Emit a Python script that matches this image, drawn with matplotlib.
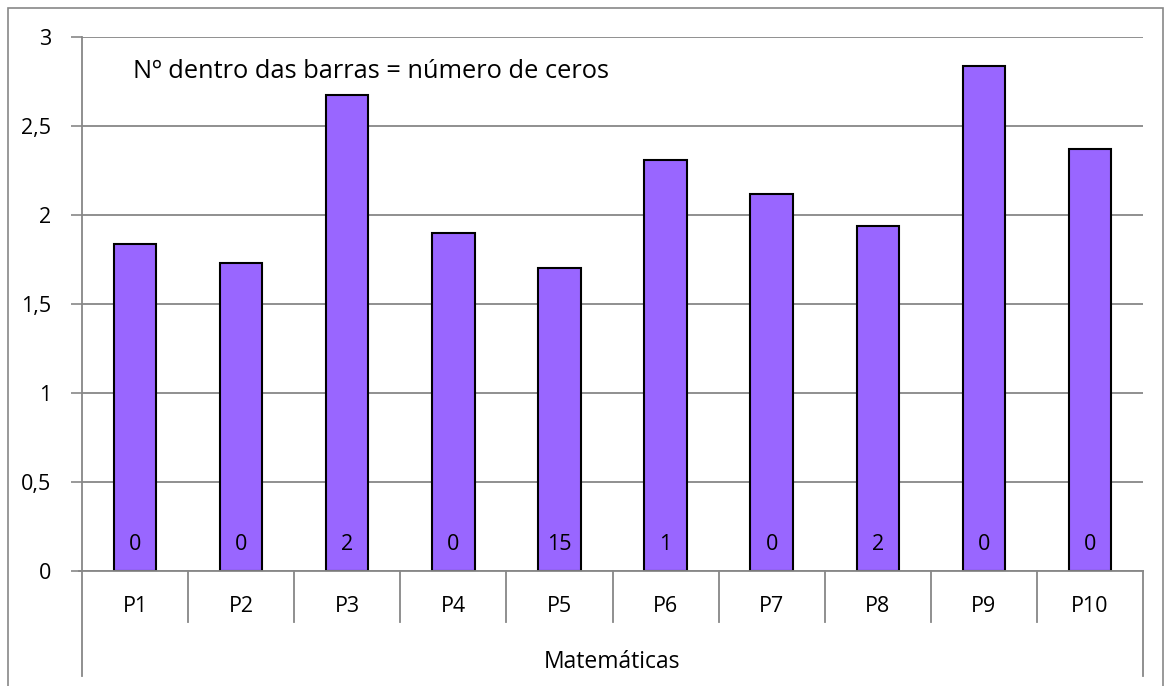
import matplotlib.pyplot as plt
from matplotlib.ticker import FuncFormatter
import matplotlib.transforms as mtransforms
from matplotlib.patches import Rectangle

# Datos
categorias = ['P1', 'P2', 'P3', 'P4', 'P5', 'P6', 'P7', 'P8', 'P9', 'P10']
medias = [1.835, 1.732, 2.672, 1.897, 1.704, 2.311, 2.12, 1.936, 2.837, 2.372]
ceros = [0, 0, 2, 0, 15, 1, 0, 2, 0, 0]
grupo = 'Matemáticas'

plt.rcParams['font.family'] = ['Open Sans', 'DejaVu Sans']
gris = '#878787'
fs = 15.5

fig = plt.figure(figsize=(11.71, 6.86), dpi=100)
ax = fig.add_axes([82 / 1171, 1 - 571 / 686, (1143 - 82) / 1171, 534 / 686])

# Borde exterior del gráfico
fig.patches.append(Rectangle((8 / 1171, -0.1), (1163 - 8) / 1171, 1.1 - 8 / 686,
                             transform=fig.transFigure, fill=False,
                             edgecolor=gris, linewidth=1.2))

x = range(len(categorias))
ax.bar(x, medias, width=0.4, color='#9966FF', edgecolor='black', linewidth=1.5, zorder=3)

ax.set_xlim(-0.5, len(categorias) - 0.5)
ax.set_ylim(0, 3)
ax.set_yticks([0, 0.5, 1, 1.5, 2, 2.5, 3])
ax.yaxis.set_major_formatter(FuncFormatter(lambda v, p: ('%g' % v).replace('.', ',')))
ax.tick_params(axis='y', length=8, width=1.2, color=gris, labelsize=fs, pad=14)
ax.set_xticks([])
ax.grid(axis='y', color=gris, linewidth=1.3, zorder=0)

for lado in ['top', 'right', 'bottom']:
    ax.spines[lado].set_visible(False)
ax.spines['left'].set_color(gris)
ax.spines['left'].set_linewidth(1.3)

# Ceros dentro de las barras
for i, c in enumerate(ceros):
    ax.text(i, 0.15, str(c), ha='center', va='center', fontsize=fs, zorder=4)

ax.text(51 / 1061, 1 - 34 / 534, 'Nº dentro das barras = número de ceros',
        transform=ax.transAxes, ha='left', va='center', fontsize=18.3)

# Eje de categorías estilo Excel
tr = mtransforms.blended_transform_factory(ax.transData, ax.transAxes)
ax.plot([-0.5, len(categorias) - 0.5], [0, 0], transform=tr, color=gris,
        linewidth=1.3, clip_on=False, zorder=5)
ax.plot([-0.53, -0.5], [0, 0], transform=tr, color=gris, linewidth=1.3, clip_on=False)
for b in range(1, len(categorias)):
    ax.plot([b - 0.5, b - 0.5], [0, -0.095], transform=tr, color=gris,
            linewidth=1.3, clip_on=False)
for b in [-0.5, len(categorias) - 0.5]:
    ax.plot([b, b], [0, -0.197], transform=tr, color=gris, linewidth=1.3, clip_on=False)
for i, cat in enumerate(categorias):
    ax.text(i, -0.066, cat, transform=tr, ha='center', va='center', fontsize=fs)
ax.text((len(categorias) - 1) / 2, -0.171, grupo, transform=tr, ha='center',
        va='center', fontsize=16.5)

fig.savefig('out.png', dpi=100)
